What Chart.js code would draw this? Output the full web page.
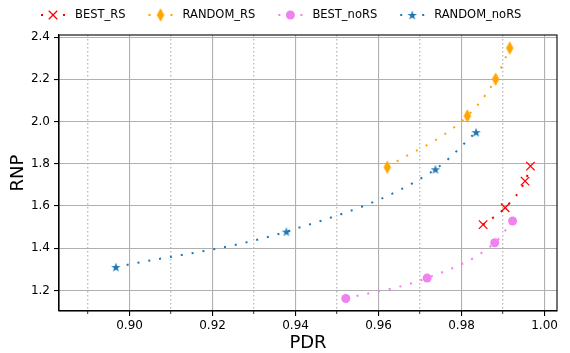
<!DOCTYPE html>
<html>
<head>
<meta charset="utf-8">
<script src="https://cdn.jsdelivr.net/npm/chart.js@4"></script>
<style>
  html, body { margin: 0; padding: 0; background: #fff; }
  #wrap { width: 570px; height: 353px; }
</style>
</head>
<body>
<div id="wrap"><canvas id="chart"></canvas></div>
<script>
// data
const bestRS_pdr = [0.9852, 0.9905, 0.9953, 0.9966];
const bestRS_rnp = [1.512, 1.592, 1.718, 1.789];
const randomRS_pdr = [0.9621, 0.9814, 0.9882, 0.9916];
const randomRS_rnp = [1.784, 2.027, 2.201, 2.348];
const bestNoRS_pdr = [0.9521, 0.9717, 0.9880, 0.9923];
const bestNoRS_rnp = [1.162, 1.259, 1.426, 1.529];
const randomNoRS_pdr = [0.8967, 0.9378, 0.9737, 0.9835];
const randomNoRS_rnp = [1.311, 1.479, 1.774, 1.950];

const xMajorTicks = [0.90, 0.92, 0.94, 0.96, 0.98, 1.00];
const xMinorTicks = [0.89, 0.91, 0.93, 0.95, 0.97, 0.99];
const yTicks = [1.2, 1.4, 1.6, 1.8, 2.0, 2.2, 2.4];

const FONT = "'DejaVu Sans', sans-serif";

// marker images for shapes Chart.js doesn't have
function makeStar(color, r) {
    const c = document.createElement('canvas');
    const s = Math.ceil(r * 2 + 2);
    c.width = s; c.height = s;
    const g = c.getContext('2d');
    const cx = s / 2, cy = s / 2 + r * 0.1;
    g.beginPath();
    for (let i = 0; i < 10; i++) {
        const rr = i % 2 === 0 ? r : r * 0.4;
        const a = -Math.PI / 2 + i * Math.PI / 5;
        g.lineTo(cx + rr * Math.cos(a), cy + rr * Math.sin(a));
    }
    g.closePath();
    g.fillStyle = color;
    g.fill();
    return c;
}

function makeThinDiamond(color, w, h) {
    const c = document.createElement('canvas');
    c.width = Math.ceil(w + 2); c.height = Math.ceil(h + 2);
    const g = c.getContext('2d');
    const cx = c.width / 2, cy = c.height / 2;
    g.beginPath();
    g.moveTo(cx, cy - h / 2);
    g.lineTo(cx + w / 2, cy);
    g.lineTo(cx, cy + h / 2);
    g.lineTo(cx - w / 2, cy);
    g.closePath();
    g.fillStyle = color;
    g.fill();
    return c;
}

const RED = '#ff0000', ORANGE = '#ffa500', VIOLET = '#ee82ee', BLUE = '#1f77b4';
const starImg = makeStar(BLUE, 5);
const diamondImg = makeThinDiamond(ORANGE, 7.5, 13.5);

function pts(xs, ys) {
    return xs.map((x, i) => ({ x: x, y: ys[i] }));
}

function series(label, xs, ys, color, style, radius, bw) {
    return {
        label: label,
        data: pts(xs, ys),
        showLine: true,
        borderColor: color,
        backgroundColor: color,
        borderWidth: 2,
        borderDash: [2, 9],
        cubicInterpolationMode: 'monotone',
        pointStyle: style,
        pointRadius: radius,
        pointHoverRadius: radius,
        pointBorderWidth: bw,
        pointBorderColor: color,
        pointBackgroundColor: color
    };
}

const datasets = [
    series('BEST_RS', bestRS_pdr, bestRS_rnp, RED, 'crossRot', 6, 1.3),
    series('RANDOM_RS', randomRS_pdr, randomRS_rnp, ORANGE, diamondImg, 6, 0),
    series('BEST_noRS', bestNoRS_pdr, bestNoRS_rnp, VIOLET, 'circle', 4.5, 0),
    series('RANDOM_noRS', randomNoRS_pdr, randomNoRS_rnp, BLUE, starImg, 5, 0)
];

// matplotlib-style legend row above the plot
const legendRow = {
    id: 'legendRow',
    afterDraw(chart) {
        const ctx = chart.ctx;
        ctx.save();
        ctx.font = '11.5px ' + FONT;
        ctx.textBaseline = 'middle';
        const y = 15;
        let x = 40;
        chart.data.datasets.forEach(ds => {
            ctx.strokeStyle = ds.borderColor;
            ctx.lineWidth = 2;
            ctx.setLineDash([2, 9]);
            ctx.beginPath();
            ctx.moveTo(x + 1, y);
            ctx.lineTo(x + 25, y);
            ctx.stroke();
            ctx.setLineDash([]);
            ctx.fillStyle = ds.pointBackgroundColor;
            ctx.strokeStyle = ds.pointBorderColor;
            ctx.lineWidth = ds.pointBorderWidth;
            Chart.helpers.drawPoint(ctx, {
                pointStyle: ds.pointStyle,
                radius: ds.pointRadius,
                borderWidth: ds.pointBorderWidth,
                rotation: 0
            }, x + 13, y);
            ctx.fillStyle = '#000';
            ctx.fillText(ds.label, x + 35, y);
            x += 35 + ctx.measureText(ds.label).width + 22;
        });
        ctx.restore();
    }
};

// top and right spines
const frame = {
    id: 'frame',
    afterDatasetsDraw(chart) {
        const a = chart.chartArea;
        const ctx = chart.ctx;
        ctx.save();
        ctx.strokeStyle = '#000';
        ctx.lineWidth = 1.1;
        ctx.strokeRect(a.left, a.top, a.right - a.left, a.bottom - a.top);
        ctx.restore();
    }
};

new Chart(document.getElementById('chart'), {
    type: 'scatter',
    data: { datasets: datasets },
    options: {
        responsive: true,
        maintainAspectRatio: false,
        animation: false,
        layout: { padding: { top: 35, right: 13, left: 0, bottom: 0 } },
        plugins: {
            legend: { display: false },
            tooltip: { enabled: false }
        },
        scales: {
            x: {
                type: 'linear',
                min: 0.883,
                max: 1.003,
                weight: 1,
                afterBuildTicks: s => { s.ticks = xMajorTicks.map(v => ({ value: v })); },
                afterFit: s => { s.height = 42; },
                grid: { color: '#b0b0b0', lineWidth: 1.1, tickColor: '#000', tickLength: 5, tickWidth: 1.1 },
                border: { color: '#000', width: 1.1 },
                ticks: {
                    color: '#000',
                    padding: 3,
                    font: { family: FONT, size: 12 },
                    callback: v => v.toFixed(2)
                },
                title: {
                    display: true,
                    text: 'PDR',
                    color: '#000',
                    font: { family: FONT, size: 18, lineHeight: 1.1 },
                    padding: { top: 0, bottom: 0 }
                }
            },
            x2: {
                type: 'linear',
                position: 'bottom',
                min: 0.883,
                max: 1.003,
                weight: 0,
                afterBuildTicks: s => { s.ticks = xMinorTicks.map(v => ({ value: v })); },
                afterFit: s => { s.height = 0; },
                grid: { color: '#bcbcbc', lineWidth: 1.4, tickColor: '#000', tickLength: 3, tickWidth: 0.8 },
                border: { display: false, dash: [1.5, 2.5] },
                ticks: { display: false }
            },
            y: {
                type: 'linear',
                min: 1.103,
                max: 2.41,
                afterBuildTicks: s => { s.ticks = yTicks.map(v => ({ value: v })); },
                afterFit: s => { s.width = 59; },
                grid: { color: '#b0b0b0', lineWidth: 1.1, tickColor: '#000', tickLength: 5, tickWidth: 1.1 },
                border: { color: '#000', width: 1.1 },
                ticks: {
                    color: '#000',
                    padding: 4,
                    font: { family: FONT, size: 12 },
                    callback: v => v.toFixed(1)
                },
                title: {
                    display: true,
                    text: 'RNP',
                    color: '#000',
                    font: { family: FONT, size: 18 },
                    padding: { top: 8, bottom: 0 }
                }
            }
        }
    },
    plugins: [legendRow, frame]
});
</script>
</body>
</html>
